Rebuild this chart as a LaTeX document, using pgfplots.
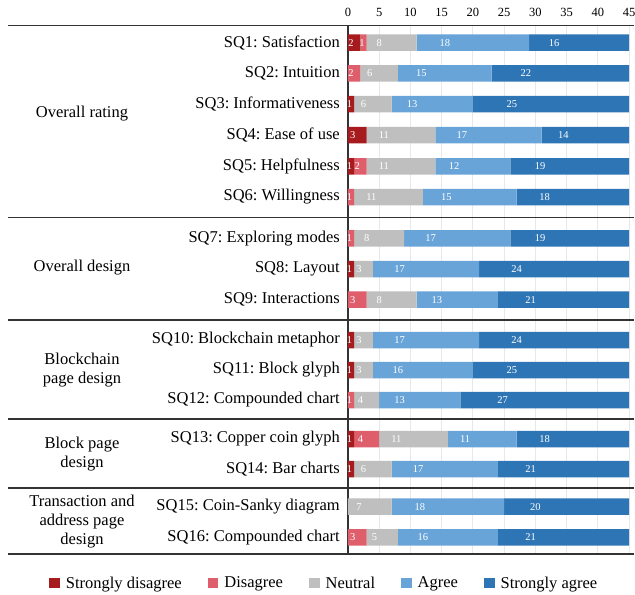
\documentclass[border=0pt]{standalone}
\usepackage{fontspec}
\setmainfont{Liberation Serif}
\usepackage{pgfplots}
\usepackage{pgfplotstable}
\pgfplotsset{compat=1.18}
\definecolor{csd}{RGB}{165,27,30}
\definecolor{cd}{RGB}{222,94,108}
\definecolor{cn}{RGB}{191,191,191}
\definecolor{ca}{RGB}{104,164,216}
\definecolor{csa}{RGB}{46,117,182}
\definecolor{gridc}{RGB}{232,232,232}
\definecolor{sepc}{RGB}{51,51,51}

\pgfplotstableread{
pos SD D N A SA
42.7 2 1 8 18 16
73.3 0 2 6 15 22
104 1 0 6 13 25
135 3 0 11 17 14
166.3 1 2 11 12 19
197 0 1 11 15 18
238.3 0 1 8 17 19
269 1 0 3 17 24
299.7 0 3 8 13 21
340 1 0 3 17 24
370 1 0 3 16 25
400 0 1 4 13 27
439 1 4 11 11 18
469 1 0 6 17 21
506.7 0 0 7 18 20
537.3 0 3 5 16 21
}\data

\newcommand{\lbl}{\fontsize{16.5bp}{19bp}\selectfont}
\pgfplotsset{seg/.style={fill=#1, draw=none}}

\begin{document}
\frenchspacing
\begin{tikzpicture}
\begin{axis}[
  width=281bp, height=528.7bp, scale only axis,
  xbar stacked, bar width=16.5,
  xmin=0, xmax=45, ymin=25.3, ymax=554, y dir=reverse,
  enlargelimits=false, clip=false,
  axis x line*=top, axis y line*=left,
  x axis line style={draw=none},
  y axis line style={draw=sepc, line width=1.1bp, -},
  xtick={0,5,...,45},
  major tick length=0pt,
  xmajorgrids, grid style={gridc, line width=0.8bp},
  ytick={42.7,73.3,104,135,166.3,197,238.3,269,299.7,340,370,400,439,469,506.7,537.3},
  yticklabels={SQ1: Satisfaction, SQ2: Intuition, SQ3: Informativeness, SQ4: Ease of use, SQ5: Helpfulness, SQ6: Willingness, SQ7: Exploring modes, SQ8: Layout, SQ9: Interactions, SQ10: Blockchain metaphor, SQ11: Block glyph, SQ12: Compounded chart, SQ13: Copper coin glyph, SQ14: Bar charts, SQ15: Coin-Sanky diagram, SQ16: Compounded chart},
  x tick label style={font=\fontsize{12.5bp}{14bp}\selectfont, /pgf/number format/assume math mode=true, yshift=5.5bp},
  y tick label style={font=\lbl, inner sep=0pt, xshift=-8bp},
  point meta=explicit,
  nodes near coords={\pgfmathfloatifflags{\pgfplotspointmeta}{0}{}{\pgfmathprintnumber{\pgfplotspointmeta}}},
  every node near coord/.append style={anchor=center, xshift={-1.5611bp*\myval}, font=\fontsize{10.5bp}{12bp}\selectfont, text=white, inner sep=0pt, /pgf/number format/assume math mode=true},
  legend columns=5,
  legend style={at={(-0.0826,-0.0549)}, anchor=center, draw=none, font=\fontsize{16.5bp}{18bp}\selectfont,
    nodes={inner sep=3bp},
    /tikz/every odd column/.append style={column sep=3bp},
    /tikz/every even column/.append style={column sep=23bp}},
  legend image code/.code={\fill[#1,draw=none] (0bp,-5.3bp) rectangle (10.6bp,5.3bp);},
]
\addplot[seg=csd, visualization depends on={\thisrow{SD} \as \myval}] table[x=SD, y=pos, meta=SD] {\data};
\addplot[seg=cd, visualization depends on={\thisrow{D} \as \myval}] table[x=D, y=pos, meta=D] {\data};
\addplot[seg=cn, visualization depends on={\thisrow{N} \as \myval}] table[x=N, y=pos, meta=N] {\data};
\addplot[seg=ca, visualization depends on={\thisrow{A} \as \myval}] table[x=A, y=pos, meta=A] {\data};
\addplot[seg=csa, visualization depends on={\thisrow{SA} \as \myval}] table[x=SA, y=pos, meta=SA] {\data};
\legend{Strongly disagree, Disagree, Neutral, Agree, Strongly agree}

\draw[sepc, line width=1.1bp] (axis cs:-54.45,25.3) -- (axis cs:45.8,25.3);
\draw[sepc, line width=1.1bp] (axis cs:-54.45,217.5) -- (axis cs:45.8,217.5);
\draw[sepc, line width=1.1bp] (axis cs:-54.45,320) -- (axis cs:45.8,320);
\draw[sepc, line width=1.1bp] (axis cs:-54.45,419) -- (axis cs:45.8,419);
\draw[sepc, line width=1.1bp] (axis cs:-54.45,488) -- (axis cs:45.8,488);
\draw[sepc, line width=1.1bp] (axis cs:-54.45,554) -- (axis cs:45.8,554);
\node[align=center, font=\lbl] at (axis cs:-42.6,114) {Overall rating};
\node[align=center, font=\lbl] at (axis cs:-42.6,268) {Overall design};
\node[align=center, font=\lbl] at (axis cs:-42.6,370) {Blockchain\\page design};
\node[align=center, font=\lbl] at (axis cs:-42.6,454.5) {Block page\\design};
\node[align=center, font=\lbl] at (axis cs:-42.6,522) {Transaction and\\address page\\design};

\coordinate (TL) at (axis cs:-55.73,0);
\coordinate (BR) at (axis cs:45.96,595);
\end{axis}
\pgfresetboundingbox
\path[use as bounding box] (TL) rectangle (BR);
\end{tikzpicture}
\end{document}
